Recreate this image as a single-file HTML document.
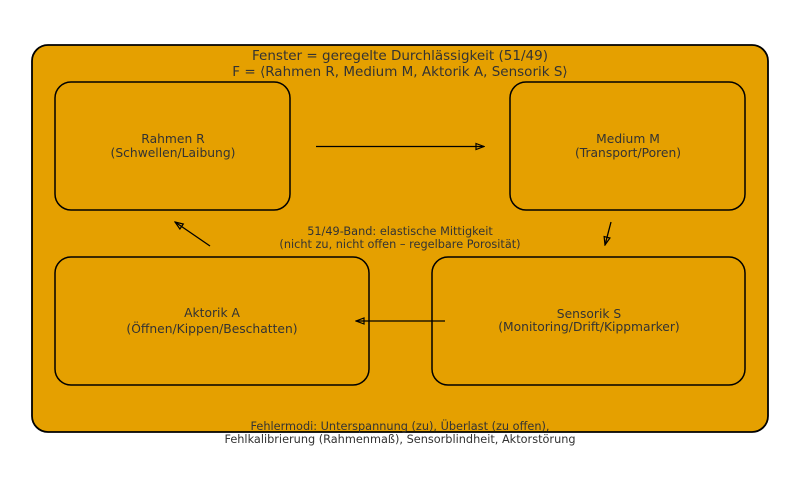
<!DOCTYPE html>
<html><head><meta charset="utf-8"><style>
html,body{margin:0;padding:0;background:#fff;}
svg{display:block;}
text{font-family:"DejaVu Sans","Liberation Sans",sans-serif;fill:#333;}
</style></head><body>
<svg width="800" height="477" viewBox="0 0 800 477" xmlns="http://www.w3.org/2000/svg">
<defs>
<marker id="ah" markerWidth="10" markerHeight="8" refX="9" refY="4" orient="auto" markerUnits="userSpaceOnUse">
<path d="M1,1 L9,4 L1,7 Z" fill="none" stroke="#000" stroke-width="1.2"/>
</marker>
</defs>
<rect x="32" y="45" width="736" height="387" rx="16" fill="#E5A000" stroke="#000" stroke-width="1.8"/>
<text x="400" y="60" font-size="13.5" text-anchor="middle">Fenster = geregelte Durchlässigkeit (51/49)</text>
<text x="400" y="76" font-size="13.5" text-anchor="middle">F = ⟨Rahmen R, Medium M, Aktorik A, Sensorik S⟩</text>

<rect x="55" y="82" width="235" height="128" rx="16" fill="#E5A000" stroke="#000" stroke-width="1.5"/>
<text x="173" y="143" font-size="12.3" text-anchor="middle">Rahmen R</text>
<text x="173" y="157" font-size="12.3" text-anchor="middle">(Schwellen/Laibung)</text>

<rect x="510" y="82" width="235" height="128" rx="16" fill="#E5A000" stroke="#000" stroke-width="1.5"/>
<text x="628" y="143" font-size="12.3" text-anchor="middle">Medium M</text>
<text x="628" y="157" font-size="12.3" text-anchor="middle">(Transport/Poren)</text>

<rect x="55" y="257" width="314" height="128" rx="16" fill="#E5A000" stroke="#000" stroke-width="1.5"/>
<text x="212" y="317" font-size="12.3" text-anchor="middle">Aktorik A</text>
<text x="212" y="333" font-size="12.3" text-anchor="middle">(Öffnen/Kippen/Beschatten)</text>

<rect x="432" y="257" width="313" height="128" rx="16" fill="#E5A000" stroke="#000" stroke-width="1.5"/>
<text x="589" y="318" font-size="12.3" text-anchor="middle">Sensorik S</text>
<text x="589" y="331" font-size="12.3" text-anchor="middle">(Monitoring/Drift/Kippmarker)</text>

<text x="400" y="235" font-size="11.3" text-anchor="middle">51/49-Band: elastische Mittigkeit</text>
<text x="400" y="248" font-size="11.3" text-anchor="middle">(nicht zu, nicht offen – regelbare Porosität)</text>

<line x1="316" y1="146.5" x2="484" y2="146.5" stroke="#000" stroke-width="1.3" marker-end="url(#ah)"/>
<line x1="611" y1="222" x2="605" y2="245" stroke="#000" stroke-width="1.3" marker-end="url(#ah)"/>
<line x1="445" y1="321" x2="356" y2="321" stroke="#000" stroke-width="1.3" marker-end="url(#ah)"/>
<line x1="210" y1="246" x2="175" y2="222" stroke="#000" stroke-width="1.3" marker-end="url(#ah)"/>

<text x="400" y="430" font-size="11.3" text-anchor="middle">Fehlermodi: Unterspannung (zu), Überlast (zu offen),</text>
<text x="400" y="443" font-size="11.3" text-anchor="middle">Fehlkalibrierung (Rahmenmaß), Sensorblindheit, Aktorstörung</text>
</svg>
</body></html>
